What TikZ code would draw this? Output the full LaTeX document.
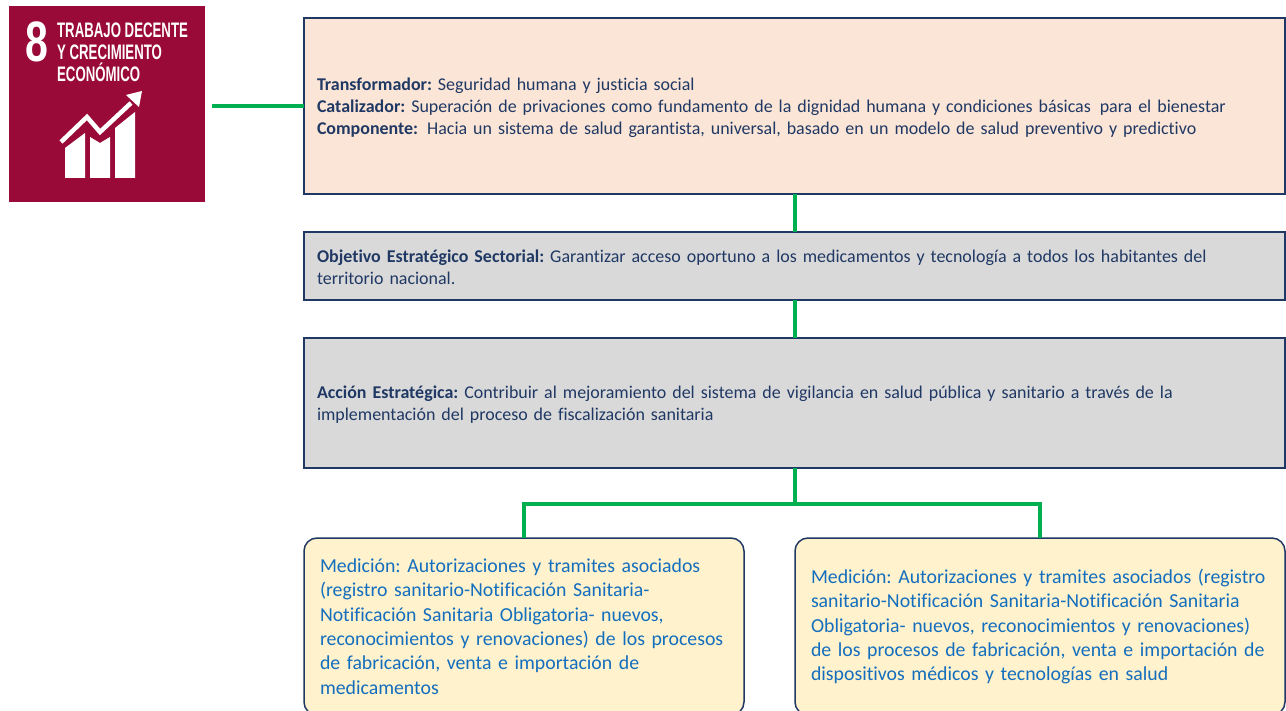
\documentclass[tikz,border=0pt]{standalone}
\usepackage{fontspec}
\setmainfont[Ligatures=CommonOff]{Carlito}
\newfontfamily\logofont{Liberation Sans}
\usetikzlibrary{positioning, calc}
\definecolor{odsred}{RGB}{153, 10, 56}
\definecolor{bordernavy}{RGB}{31, 56, 100}
\definecolor{textnavy}{RGB}{31, 56, 100}
\definecolor{linegreen}{RGB}{0, 176, 80}
\definecolor{peachfill}{RGB}{251, 229, 214}
\definecolor{grayfill}{RGB}{217, 217, 217}
\definecolor{creamfill}{RGB}{255, 242, 204}
\definecolor{medblue}{RGB}{20, 110, 190}
\tikzstyle{planbox} = [draw=bordernavy,line width=1.5pt,outer sep=0pt,inner xsep=13pt,inner ysep=0pt,align=left,text=textnavy,text height=15.5pt,font=\frenchspacing\fontsize{17.95}{22.2}\selectfont]
\tikzstyle{medbox} = [draw=bordernavy,line width=1.5pt,fill=creamfill,rounded corners=13pt,outer sep=0pt,inner xsep=16pt,inner ysep=0pt,align=left,text=medblue,font=\frenchspacing\fontsize{19.8}{24.4}\selectfont]
\tikzstyle{conector} = [line width=4pt,linegreen]
\tikzstyle{logotext} = [text=white,anchor=base west,inner sep=0pt,xscale=0.63,font=\logofont\bfseries\fontsize{21}{21}\selectfont]

\begin{document}
\begin{tikzpicture}[x=1pt,y=-1pt]
\useasboundingbox (0,0) rectangle (1286,711);

% Logo
\fill[odsred] (9,6) rectangle (205,202);
\node[text=white,inner sep=0pt,xscale=0.72,font=\logofont\bfseries\fontsize{57}{57}\selectfont] (ocho) at (37,42) {8};
\foreach \y/\name/\txt in {38/lineone/TRABAJO DECENTE, 60/linetwo/Y CRECIMIENTO, 82/linethree/ECONÓMICO} {
    \node[logotext] (\name) at (57,\y) {\txt};
}
\fill[white] (65,178) -- (85,178) -- (85,133) -- (65,148) -- cycle;
\fill[white] (90,178) -- (110,178) -- (110,137) -- (100,143) -- (90,137) -- cycle;
\fill[white] (115,178) -- (135,178) -- (135,112) -- (115,128) -- cycle;
\draw[white,line width=4.5pt] (61,142) -- (87,117) -- (100,132) -- (131,103);
\fill[white] (142,91) -- (126,95) -- (139,107) -- cycle;

% Boxes
\node[planbox,fill=peachfill,minimum width=981pt,minimum height=176pt,text width=955pt] (marco) at (794.5,106) {\textbf{Transformador:} Seguridad humana y justicia social\\
\textbf{Catalizador:} Superación de privaciones como fundamento de la dignidad humana y condiciones básicas\, para el bienestar\\
\textbf{Componente:}\, Hacia un sistema de salud garantista, universal, basado en un modelo de salud preventivo y predictivo};
\node[planbox,fill=grayfill,minimum width=981pt,minimum height=68pt,text width=955pt] (objetivo) at (794.5,266) {\textbf{Objetivo Estratégico Sectorial:} Garantizar acceso oportuno a los medicamentos y tecnología a todos los habitantes del\\
territorio nacional.};
\node[planbox,fill=grayfill,minimum width=981pt,minimum height=130pt,text width=955pt] (accion) at (794.5,403) {\textbf{Acción Estratégica:} Contribuir al mejoramiento del sistema de vigilancia en salud pública y sanitario a través de la\\
implementación del proceso de fiscalización sanitaria};
\node[medbox,minimum width=440pt,minimum height=177pt,text width=408pt] (medicamentos) at (524,626.5) {Medición: Autorizaciones y tramites asociados\\
(registro sanitario-Notificación Sanitaria-\\
Notificación Sanitaria Obligatoria- nuevos,\\
reconocimientos y renovaciones) de los procesos\\
de fabricación, venta e importación de\\
medicamentos};
\node[medbox,minimum width=490pt,minimum height=177pt,text width=458pt] (dispositivos) at (1040,626.5) {Medición: Autorizaciones y tramites asociados (registro\\
sanitario-Notificación Sanitaria-Notificación Sanitaria\\
Obligatoria- nuevos, reconocimientos y renovaciones)\\
de los procesos de fabricación, venta e importación de\\
dispositivos médicos y tecnologías en salud};

% Connectors
\coordinate (logoend) at (212,106);
\coordinate (bus) at (accion.south |- 0,504);
\draw[conector] (logoend) -- (marco.west);
\draw[conector] (marco.south) -- (objetivo.north);
\draw[conector] (objetivo.south) -- (accion.north);
\draw[conector] (accion.south) -- (bus);
\draw[conector] (medicamentos.north) |- (bus) -| (dispositivos.north);
\end{tikzpicture}
\end{document}
